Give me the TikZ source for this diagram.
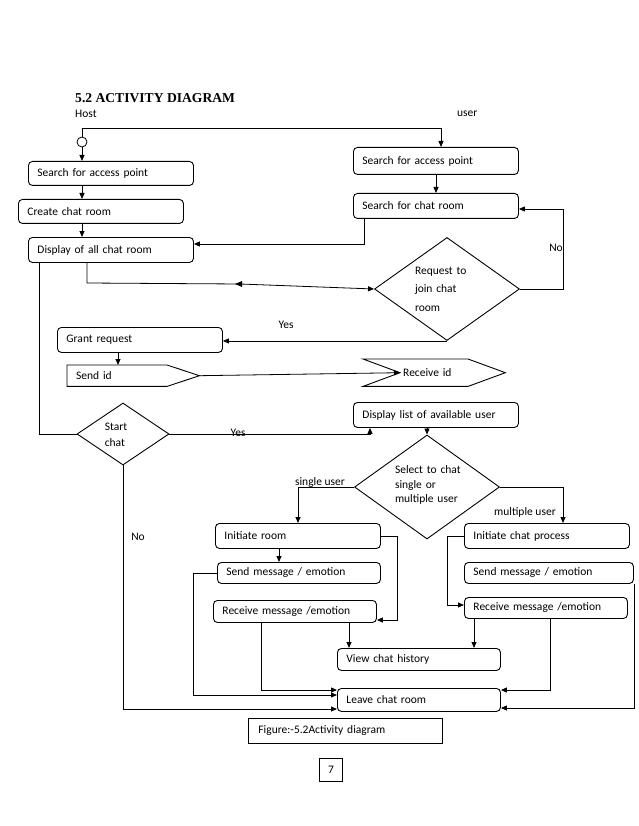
\documentclass[tikz,border=0pt]{standalone}
\usepackage{fontspec}
\setmainfont{Carlito}
\newfontfamily\titlefont{Liberation Serif}
\usetikzlibrary{shapes.geometric,arrows.meta,calc}
\newcommand\dfont{\fontsize{11.5}{14}\selectfont}
\begin{document}
\begin{tikzpicture}[x=1pt,y=-1pt,
  ln/.style={line width=0.8pt},
  arr/.style={line width=0.8pt,-{Triangle[length=6pt,width=5pt]}},
  box/.style={draw,line width=0.9pt,rounded corners=4pt,anchor=north west,inner xsep=9pt,inner ysep=0pt,align=left,font=\dfont},
  sqbox/.style={draw,line width=0.9pt,anchor=north west,inner ysep=0pt,font=\dfont},
  dia/.style={draw,diamond,line width=0.9pt,inner sep=0pt},
  dtext/.style={align=left,inner sep=0pt},
  lbl/.style={inner sep=0pt,font=\dfont}
]
\fill[white] (0,0) rectangle (638,826);
\useasboundingbox (0,0) rectangle (638,826);

% headings
\node[anchor=base west,inner sep=0pt,font=\titlefont\bfseries\fontsize{13.6}{16}\selectfont] (title) at (75,103) {5.2 ACTIVITY DIAGRAM};
\node[lbl,anchor=west] (host) at (75,114) {Host};
\node[lbl,anchor=west] (user) at (457,114) {user};

% start node
\node[draw,circle,line width=0.8pt,minimum size=10pt,inner sep=0pt,fill=white] (I) at (82,142) {};

% host side
\node[box,text width=147pt,minimum height=24pt] (A) at (28,161) {Search for access point};
\node[box,text width=147pt,minimum height=24pt] (B) at (18,199) {Create chat room};
\node[box,text width=147pt,minimum height=25pt] (C) at (28,237) {Display of all chat room};

% user side
\node[box,text width=147pt,minimum height=27pt] (D) at (353,147) {Search for access point};
\node[box,text width=147pt,minimum height=25pt] (E) at (353,193) {Search for chat room};

% request diamond
\node[dia,minimum width=145pt,minimum height=103pt] (R) at (447,289) {};
\node[dtext,font=\fontsize{11.5}{18.5}\selectfont,text width=62pt] (Rt) at (446,289) {Request to\\join chat\\room};

\node[box,text width=147pt,minimum height=25pt] (G) at (57,327) {Grant request};

% send id / receive id
\node[anchor=north west,inner xsep=9pt,inner ysep=0pt,text width=114pt,minimum height=21pt,align=left,font=\dfont] (S) at (67,365) {Send id};
\draw[line width=0.9pt] (S.north west) -- ($(S.north west)+(100,0)$) -- (S.east) -- ($(S.south west)+(100,0)$) -- (S.south west) -- cycle;
\node[anchor=north west,inner xsep=40pt,inner ysep=0pt,text width=62pt,minimum height=27pt,align=left,font=\dfont] (RI) at (363,359) {Receive id};
\draw[line width=0.9pt] (RI.north west) -- ($(RI.north west)+(105,0)$) -- (RI.east) -- ($(RI.south west)+(105,0)$) -- (RI.south west) -- ($(RI.west)+(37,0)$) -- cycle;
\coordinate (RIn) at ($(RI.west)+(37,0)$);

% start chat diamond
\node[dia,minimum width=92pt,minimum height=62pt] (SC) at (123,434) {};
\node[dtext,font=\fontsize{11.5}{16}\selectfont] (SCt) at (116,435) {Start\\chat};

\node[box,text width=147pt,minimum height=25pt] (DL) at (353,402) {Display list of available user};

% select diamond
\node[dia,minimum width=145pt,minimum height=104pt] (Sel) at (427,487) {};
\node[dtext,font=\fontsize{11.5}{14.5}\selectfont,text width=72pt] (Selt) at (431,485) {Select to chat\\single or\\multiple user};

% lower boxes
\node[box,text width=147pt,minimum height=25pt] (IR) at (215,523) {Initiate room};
\node[box,text width=147pt,minimum height=25pt] (IC) at (464,523) {Initiate chat process};
\node[box,text width=145pt,minimum height=21pt] (SL) at (217,562) {Send message / emotion};
\node[box,text width=151pt,minimum height=21pt] (SR) at (464,562) {Send message / emotion};
\node[box,text width=145pt,minimum height=22pt] (RL) at (213,600) {Receive message /emotion};
\node[box,text width=145pt,minimum height=21pt] (RR) at (464,597) {Receive message /emotion};
\node[box,text width=145pt,minimum height=22pt] (V) at (337,648) {View chat history};
\node[box,text width=145pt,minimum height=23pt] (L) at (337,688) {Leave chat room};

% caption and page number
\node[sqbox,inner xsep=10pt,text width=174pt,minimum height=25pt,align=left] (cap) at (248,718) {Figure:-5.2Activity diagram};
\node[sqbox,inner sep=0pt,minimum width=23pt,minimum height=23pt] (pg) at (319,758) {7};

% connectors
\draw[arr] (I.north) -- (82,128) -| (441,0 |- D.north);
\draw[arr] (I.south) -- (I.south |- A.north);
\draw[arr] (I.south |- A.south) -- (I.south |- B.north);
\draw[arr] (I.south |- B.south) -- (I.south |- C.north);
\draw[arr] (436,0 |- D.south) -- (436,0 |- E.north);
\draw[arr] (364,0 |- E.south) |- (C.east |- 0,244);
\draw[arr] (87,0 |- C.south) -- (87,283) -- (240,284) -- (R.west);
\fill (235,284) -- (242,281) -- (242,287) -- cycle;
\draw[arr] (R.east) -| (563,209) -- (E.east |- 0,209);
\node[lbl] (no1) at (556,248) {No};
\draw[arr] (R.south) -- (R.south -| G.east);
\node[lbl] (yes1) at (286,325) {Yes};
\draw[arr] (118,0 |- G.south) -- (118,0 |- S.north);
\draw[arr] (S.east) -- (RIn);
\draw[ln] (39,0 |- C.south) |- (SC.west);
\draw[arr] (SC.east) -| (370,0 |- DL.south);
\node[lbl] (yes2) at (238,433) {Yes};
\draw[arr] (Sel.north |- DL.south) -- (Sel.north);
\draw[arr] (Sel.west) -| (298,0 |- IR.north);
\node[lbl,anchor=south] (su) at (320,488) {single user};
\draw[arr] (Sel.east) -| (563,0 |- IC.north);
\node[lbl] (mu) at (525,512) {multiple user};
\draw[arr] (279,0 |- IR.south) -- (279,0 |- SL.north);
\draw[arr] (IR.east) -| (397,620) -- (RL.east |- 0,620);
\draw[arr] (SL.west) -| (193,695) -- (L.west |- 0,695);
\draw[arr] (261,0 |- RL.south) |- (L.west |- 0,690);
\draw[arr] (349,0 |- RL.south) -- (349,0 |- V.north);
\draw[arr] (IC.west) -| (447,605) -- (RR.west |- 0,605);
\draw[arr] (474,0 |- RR.south) -- (474,0 |- V.north);
\draw[arr] (550,0 |- RR.south) |- (L.east |- 0,690);
\draw[arr] (SR.south east) |- (L.east |- 0,708);
\draw[arr] (SC.south) |- (L.west |- 0,709);
\node[lbl] (no2) at (138,537) {No};
\end{tikzpicture}
\end{document}
